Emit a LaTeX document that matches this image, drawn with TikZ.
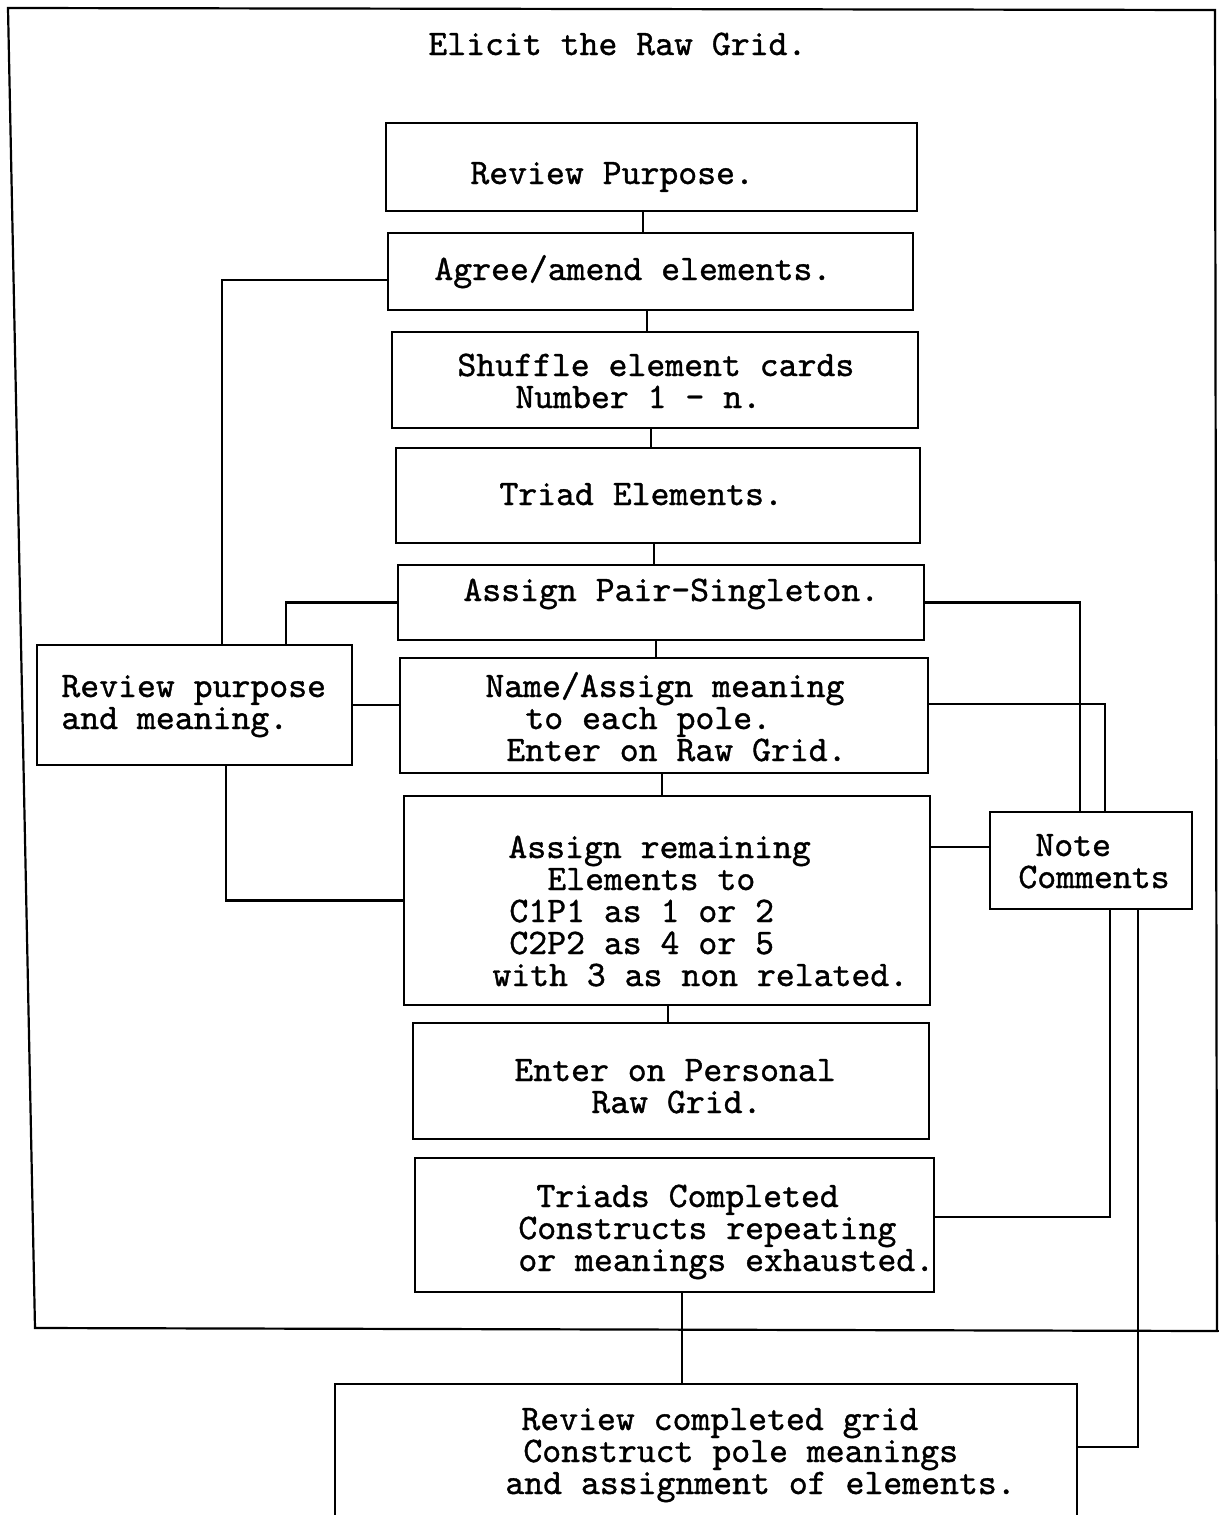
\documentclass[tikz,border=0pt]{standalone}
\usepackage{fontspec}
\usetikzlibrary{fit}
\newfontfamily\typewriter{lmmono10-regular.otf}[FakeBold=1]
\newcommand\typedlines[1]{\begin{tabular}[t]{@{}l@{}}#1\end{tabular}}
\begin{document}
\begin{tikzpicture}[x=0.5pt, y=-0.5pt,
  rule/.style={line width=1.1pt},
  box/.style={draw, rectangle, line width=1.1pt, inner sep=0pt},
  typed/.style={anchor=base west, inner sep=0pt,
    font=\typewriter\fontsize{18}{16}\selectfont}]

% page area
\path[use as bounding box, clip] (0,0) rectangle (1219,1515);
\fill[white] (0,0) rectangle (1219,1515);

% outer frame of the elicitation stage
\draw[rule] (8,8) -- (1215,10) -- (1217,1331) -- (35,1328) -- cycle;
\draw[rule] (1217,1331) -- (1222,1331);
\node[typed] (title) at (428,55) {Elicit the Raw Grid.};

% main column of steps
\node[box, fit={(386,123) (917,211)}]  (rp) {};
\node[box, fit={(388,233) (913,310)}]  (ag) {};
\node[box, fit={(392,332) (918,428)}]  (sh) {};
\node[box, fit={(396,448) (920,543)}]  (tr) {};
\node[box, fit={(398,565) (924,640)}]  (ap) {};
\node[box, fit={(400,658) (928,773)}]  (na) {};
\node[box, fit={(404,796) (930,1005)}] (ar) {};
\node[box, fit={(413,1023) (929,1139)}] (ep) {};
\node[box, fit={(415,1158) (934,1292)}] (tc) {};
\node[box, fit={(335,1384) (1077,1530)}] (rc) {};

% side boxes
\node[box, fit={(37,645) (352,765)}]   (rpm) {};
\node[box, fit={(990,812) (1192,909)}] (nc) {};

% step texts
\node[typed] (trp) at (470,184) {Review Purpose.};
\node[typed] (tag) at (434,280) {Agree/amend elements.};
\node[typed] (tsh) at (457,376) {\typedlines{Shuffle element cards\\ \hspace*{29pt}Number 1 - n.}};
\node[typed] (ttr) at (499,505) {Triad Elements.};
\node[typed] (tap) at (463,601) {Assign Pair-Singleton.};
\node[typed] (tna) at (485,697) {\typedlines{Name/Assign meaning\\ \hspace*{20pt}to each pole.\\ \hspace*{10.5pt}Enter on Raw Grid.}};
\node[typed] (tar) at (508,858) {\typedlines{Assign remaining\\ \hspace*{19.5pt}Elements to\\ \hspace*{0.5pt}C1P1 as 1 or 2\\ \hspace*{0.5pt}C2P2 as 4 or 5\\ \hspace*{-8pt}with 3 as non related.}};
\node[typed] (tep) at (514,1081) {\typedlines{Enter on Personal\\ \hspace*{38.5pt}Raw Grid.}};
\node[typed] (ttc) at (536,1207) {\typedlines{Triads Completed\\ \hspace*{-9pt}Constructs repeating\\ \hspace*{-9pt}or meanings exhausted.}};
\node[typed] (trc) at (521,1430) {\typedlines{Review completed grid\\ \hspace*{1pt}Construct pole meanings\\ \hspace*{-8pt}and assignment of elements.}};
\node[typed] (trpm) at (61,697) {\typedlines{Review purpose\\ and meaning.}};
\node[typed] (tnc) at (1035,856) {\typedlines{Note\\ \hspace*{-8.5pt}Comments}};

% links down the main column
\draw[rule] ([xshift=-4.25pt]rp.south) -- ([xshift=-4.25pt]rp.south |- ag.north);
\draw[rule] ([xshift=-1.75pt]ag.south) -- ([xshift=-1.75pt]ag.south |- sh.north);
\draw[rule] ([xshift=-2pt]sh.south) -- ([xshift=-2pt]sh.south |- tr.north);
\draw[rule] ([xshift=-2pt]tr.south) -- ([xshift=-2pt]tr.south |- ap.north);
\draw[rule] ([xshift=-2.5pt]ap.south) -- ([xshift=-2.5pt]ap.south |- na.north);
\draw[rule] ([xshift=-1pt]na.south) -- ([xshift=-1pt]na.south |- ar.north);
\draw[rule] ([xshift=0.5pt]ar.south) -- ([xshift=0.5pt]ar.south |- ep.north);
\draw[rule] ([xshift=3.75pt]tc.south) -- ([xshift=3.75pt]tc.south |- rc.north);

% review purpose and meaning loops
\draw[rule] ([xshift=13.75pt]rpm.north) |- ([yshift=-4.25pt]ag.west);
\draw[rule] ([xshift=45.75pt]rpm.north) |- (ap.west);
\draw[rule] (rpm.east) -- (rpm.east -| na.west);
\draw[rule] ([xshift=15.75pt]rpm.south) |- (ar.west);

% note comments loops
\draw[rule] (ap.east) -| ([xshift=-5.5pt]nc.north);
\draw[rule] ([yshift=5.75pt]na.east) -| ([xshift=7pt]nc.north);
\draw[rule] ([yshift=6.75pt]nc.west) -- ([yshift=6.75pt]nc.west -| ar.east);
\draw[rule] ([xshift=9.5pt]nc.south) |- ([yshift=4pt]tc.east);
\draw[rule] ([xshift=23.5pt]nc.south) |- ([yshift=5pt]rc.east);

\end{tikzpicture}
\end{document}
